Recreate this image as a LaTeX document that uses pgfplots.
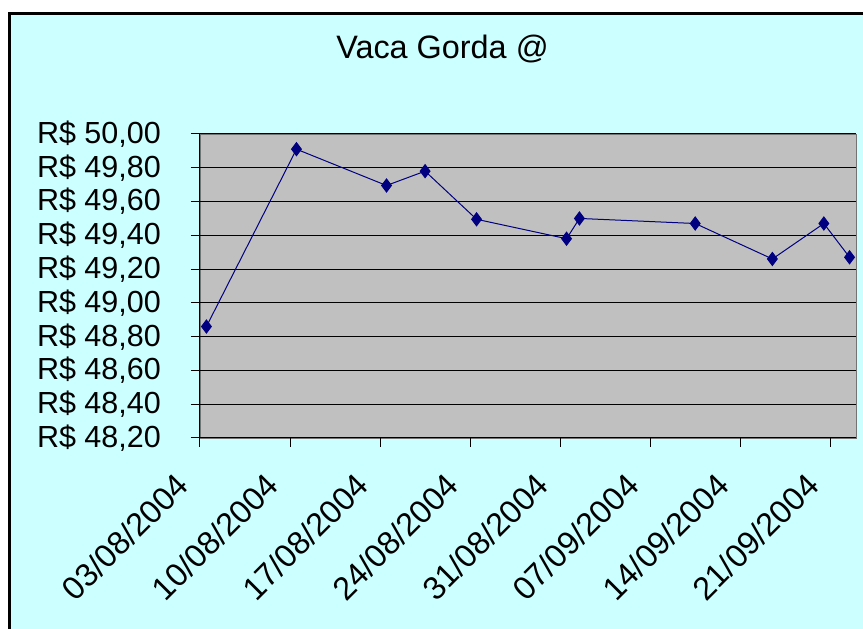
\documentclass[border=0pt]{standalone}
\usepackage{fontspec}
\setmainfont{Liberation Sans}
\usepackage{pgfplots}
\pgfplotsset{compat=1.18}
\definecolor{bgcyan}{HTML}{CCFFFF}
\definecolor{plotgray}{HTML}{C0C0C0}
\definecolor{navy}{HTML}{000080}
\begin{document}
\begin{tikzpicture}[x=1pt,y=1pt]
\useasboundingbox (0,0) rectangle (863,629);
\clip (0,0) rectangle (863,629);
\fill[white] (0,0) rectangle (863,629);
\fill[bgcyan] (8,0) rectangle (863,617);
\draw[black, line width=3pt] (9.5,0) -- (9.5,615.5) -- (863,615.5);
\node[font=\fontsize{32.4}{38}\selectfont, anchor=base, inner sep=0pt] at (442.5,570) {Vaca Gorda @};
\begin{axis}[
  at={(200pt,191pt)}, anchor=south west,
  scale only axis, width=656pt, height=304pt,
  xmin=0, xmax=51, ymin=48.2, ymax=50,
  axis background/.style={fill=plotgray, draw=gray!90!black},
  axis lines*=left,
  axis line style={-, black, line width=1pt},
  ytick={48.2,48.4,48.6,48.8,49.0,49.2,49.4,49.6,49.8,50.0},
  xtick={0,7,14,21,28,35,42,49},
  xticklabels={03/08/2004,10/08/2004,17/08/2004,24/08/2004,31/08/2004,07/09/2004,14/09/2004,21/09/2004},
  ymajorgrids, major grid style={black, line width=1pt},
  tick style={black, line width=1pt},
  tick align=outside, major tick length=9pt,
  /pgf/number format/assume math mode=true,
  yticklabel={R\$ \pgfmathprintnumber[fixed,fixed zerofill,precision=2,use comma]{\tick}},
  yticklabel style={font=\fontsize{30.5}{36}\selectfont, anchor=east, inner sep=0pt, xshift=-30pt},
  xticklabel style={font=\fontsize{32.4}{38}\selectfont, xshift=-26pt, yshift=-24pt, rotate=45, anchor=north east, inner sep=0pt},
  clip=false,
]
\addplot[navy, line width=1pt, mark=diamond*, mark size=6.5pt, mark options={fill=navy, draw=navy}] coordinates {
(0.5,48.86) (7.5,49.91) (14.5,49.695) (17.5,49.78) (21.5,49.495) (28.5,49.38)
(29.5,49.50) (38.5,49.47) (44.5,49.26) (48.5,49.47) (50.5,49.27)
};
\end{axis}
\end{tikzpicture}
\end{document}
